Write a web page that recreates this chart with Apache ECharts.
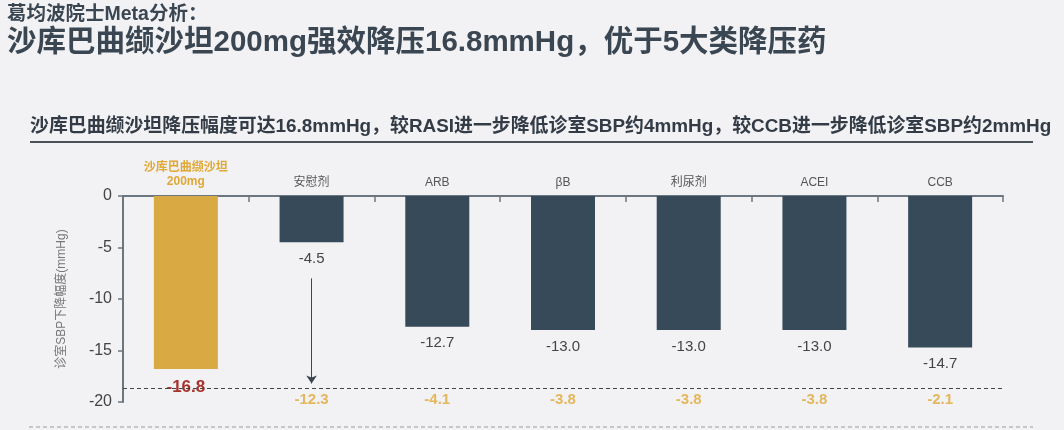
<!DOCTYPE html>
<html>
<head>
<meta charset="utf-8">
<script src="https://cdn.jsdelivr.net/npm/echarts@6/dist/echarts.min.js"></script>
<style>
html,body{margin:0;padding:0;background:#f2f2f4;}
#c{width:1064px;height:430px;}
</style>
</head>
<body>
<div id="c"></div>
<script>
// ---- data ----
var categories = ['沙库巴曲缬沙坦\n200mg', '安慰剂', 'ARB', 'βB', '利尿剂', 'ACEI', 'CCB'];
var sbpChange = [-16.8, -4.5, -12.7, -13.0, -13.0, -13.0, -14.7];
var extraReduction = [null, -12.3, -4.1, -3.8, -3.8, -3.8, -2.1];
var yTicks = { min: -20, max: 0, interval: 5 };
var refLineValue = -18.65;
var arrowFrom = -8.0, arrowTo = -18.2;
var labelRowValue = -19.8;

var titleTop = '葛均波院士Meta分析：';
var titleMain = '沙库巴曲缬沙坦200mg强效降压16.8mmHg，优于5大类降压药';
var subTitle = '沙库巴曲缬沙坦降压幅度可达16.8mmHg，较RASI进一步降低诊室SBP约4mmHg，较CCB进一步降低诊室SBP约2mmHg';
var yName = '诊室SBP下降幅度(mmHg)';

var FONT = '"Liberation Sans", "Noto Sans CJK SC", sans-serif';
var GOLD = '#d9a944', DARK = '#374a59', AXIS = '#6b7680';

var chart = echarts.init(document.getElementById('c'));

var barData = sbpChange.map(function (v, i) {
  return i === 0 ? {
    value: v,
    itemStyle: { color: GOLD },
    label: { color: '#a8322d', fontSize: 17, fontWeight: 'bold', distance: 10 }
  } : { value: v };
});

var rowData = extraReduction.map(function (v, i) {
  return v === null ? null : [categories[i], labelRowValue, v];
}).filter(function (d) { return d; });

chart.setOption({
  backgroundColor: '#f2f2f4',
  textStyle: { fontFamily: FONT },
  title: [
    { text: titleTop, left: 2, top: 0, textStyle: { fontSize: 19.5, fontWeight: 'bold', color: '#3a4652', fontFamily: FONT } },
    { text: titleMain, left: 2, top: 23, textStyle: { fontSize: 29.5, fontWeight: 'bold', color: '#3a4652', fontFamily: FONT } },
    { text: subTitle, left: 25, top: 112, textStyle: { fontSize: 18.9, fontWeight: 'bold', color: '#333c46', fontFamily: FONT } }
  ],
  graphic: [
    { type: 'line', shape: { x1: 30, y1: 142, x2: 1033, y2: 142 }, style: { stroke: '#4a525a', lineWidth: 2 } },
    { type: 'line', shape: { x1: 29, y1: 427, x2: 1033, y2: 427 }, style: { stroke: '#9a9a9a', lineWidth: 1, lineDash: [4, 3] } }
  ],
  grid: { left: 123, right: 61, top: 196, bottom: 28 },
  xAxis: {
    type: 'category',
    position: 'top',
    data: categories,
    axisLine: { lineStyle: { color: AXIS, width: 2 } },
    axisTick: { show: true, inside: true, length: 6, lineStyle: { color: AXIS, width: 1.5 } },
    axisLabel: {
      interval: 0, fontSize: 12, color: '#555', margin: 7, fontFamily: FONT,
      formatter: function (v, i) {
        if (i === 0) {
          var p = v.split('\n');
          return '{g|' + p[0] + '}\n{g|' + p[1] + '}';
        }
        return v;
      },
      rich: { g: { color: '#e0a837', fontWeight: 'bold', fontSize: 12, lineHeight: 14, fontFamily: FONT } }
    }
  },
  yAxis: {
    type: 'value',
    min: yTicks.min, max: yTicks.max, interval: yTicks.interval,
    name: yName, nameLocation: 'middle', nameGap: 55, nameRotate: 90,
    nameTextStyle: { fontSize: 12, color: '#777', fontFamily: FONT },
    axisLine: { show: true, lineStyle: { color: AXIS, width: 2 } },
    axisTick: { show: true, length: 5, lineStyle: { color: AXIS, width: 1.5 } },
    axisLabel: { fontSize: 16, color: '#444', margin: 11, fontFamily: FONT },
    splitLine: { show: false }
  },
  series: [
    {
      type: 'bar',
      data: barData,
      barWidth: 64,
      itemStyle: { color: DARK },
      label: {
        show: true, position: 'bottom', distance: 9,
        fontSize: 15, color: '#444', fontFamily: FONT,
        formatter: function (p) { return p.value.toFixed(1); }
      },
      markLine: {
        silent: true,
        animation: false,
        symbol: ['none', 'none'],
        label: { show: false },
        data: [
          { yAxis: refLineValue, lineStyle: { type: [4, 3], color: '#444', width: 1 } },
          [
            { coord: [categories[1], arrowFrom], symbol: 'none', lineStyle: { type: 'solid', color: '#3a4652', width: 1 } },
            { coord: [categories[1], arrowTo], symbol: 'arrow', symbolSize: 8 }
          ]
        ]
      }
    },
    {
      type: 'scatter',
      data: rowData,
      symbolSize: 0,
      silent: true,
      label: {
        show: true, position: 'inside',
        fontSize: 15, fontWeight: 'bold', color: '#e0a837', fontFamily: FONT,
        formatter: function (p) { return p.value[2].toFixed(1); }
      }
    }
  ],
  animation: false
});
</script>
</body>
</html>
